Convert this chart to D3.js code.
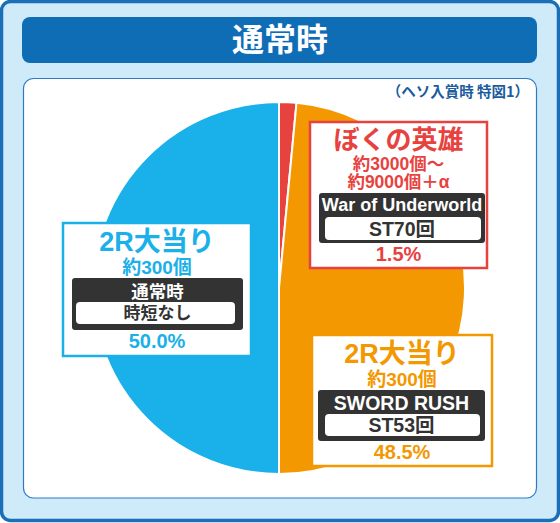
<!DOCTYPE html>
<html><head><meta charset="utf-8">
<script src="https://cdn.jsdelivr.net/npm/d3@7"></script>
<style>html,body{margin:0;padding:0;background:#fff}svg{display:block}</style>
</head><body>
<script>
// ---- data ----
const title = "通常時";
const note = "（ヘソ入賞時 特図1）";
const categories = ["ぼくの英雄", "2R大当り(SWORD RUSH)", "2R大当り(通常時)"];
const values = [1.5, 48.5, 50.0];
const headlines = ["ぼくの英雄", "2R大当り", "2R大当り"];
const payouts = [["約3000個～", "約9000個＋α"], ["約300個"], ["約300個"]];
const modes = ["War of Underworld", "SWORD RUSH", "通常時"];
const modeDetails = ["ST70回", "ST53回", "時短なし"];
const percentLabels = ["1.5%", "48.5%", "50.0%"];
const colors = ["#e8423f", "#f39800", "#1ab0e9"];

// ---- layout ----
const W = 560, H = 523;
const FONT = "'Liberation Sans','Noto Sans CJK JP',sans-serif";
const CJK = "'Noto Sans CJK JP','Noto Sans',sans-serif";
const svg = d3.select("body").append("svg").attr("width", W).attr("height", H);

svg.append("rect").attr("x", 1.5).attr("y", 1.5).attr("width", W - 3).attr("height", H - 4)
  .attr("rx", 9).attr("fill", "#cfeaf9").attr("stroke", "#1a6fb7").attr("stroke-width", 3.5);
svg.append("rect").attr("x", 22).attr("y", 17).attr("width", 515).attr("height", 46)
  .attr("rx", 8).attr("fill", "#0f6db6");
svg.append("text").attr("x", 280).attr("y", 51).attr("text-anchor", "middle")
  .attr("font-family", CJK).attr("font-weight", 700).attr("font-size", 32).attr("fill", "#fff").text(title);
svg.append("rect").attr("x", 23.5).attr("y", 78.5).attr("width", 513).attr("height", 419.5)
  .attr("rx", 10).attr("fill", "#fff").attr("stroke", "#2e7cc4").attr("stroke-width", 1.2);
svg.append("text").attr("x", 529).attr("y", 97).attr("text-anchor", "end")
  .attr("font-family", CJK).attr("font-weight", 700).attr("font-size", 14.5).attr("fill", "#1b5c9e").text(note);

// pie
const cx = 279, cy = 288, R = 186;
const pie = d3.pie().sort(null).value(d => d)(values);
const arc = d3.arc().innerRadius(0).outerRadius(R);
svg.append("g").attr("transform", `translate(${cx},${cy})`)
  .selectAll("path").data(pie).join("path")
  .attr("d", arc).attr("fill", (d, i) => colors[i])
  .attr("stroke", "#fff").attr("stroke-width", 2);

// label boxes (index -> box geometry)
const boxes = [
  {i: 0, x: 310, y: 122, w: 177, h: 146, head: 140, headSize: 26, paySize: 17.5, pay: [163.5, 182], dark: [319, 193, 166, 50], mode: 205, modeSize: 18, inner: [325, 217, 156, 23], detailSize: 19.5, pct: 254},
  {i: 1, x: 312, y: 335, w: 180, h: 131, head: 354, headSize: 27, paySize: 19, pay: [379], dark: [318, 390, 167, 51], mode: 403, modeSize: 19.5, inner: [325, 414, 155, 22], detailSize: 19.5, pct: 452},
  {i: 2, x: 63, y: 223, w: 188, h: 133, head: 242, headSize: 27, paySize: 19, pay: [267], dark: [72, 278, 171, 52], mode: 292, modeSize: 17.5, inner: [76, 302, 159, 22], detailSize: 17, pct: 341}
];

boxes.forEach(b => {
  const col = colors[b.i];
  const g = svg.append("g");
  g.append("rect").attr("x", b.x).attr("y", b.y).attr("width", b.w).attr("height", b.h)
    .attr("fill", "#fff").attr("stroke", col).attr("stroke-width", 2.5);
  const mx = b.x + b.w / 2;
  const t = (y, s, txt, fill, anchorX) => g.append("text").attr("x", anchorX ?? mx).attr("y", y)
    .attr("text-anchor", "middle").attr("dominant-baseline", "central")
    .attr("font-family", FONT).attr("font-weight", 700).attr("font-size", s).attr("fill", fill).text(txt);
  t(b.head, b.headSize, headlines[b.i], col);
  payouts[b.i].forEach((p, k) => t(b.pay[k], b.paySize, p, col));
  const [dx, dy, dw, dh] = b.dark;
  g.append("rect").attr("x", dx).attr("y", dy).attr("width", dw).attr("height", dh).attr("rx", 3).attr("fill", "#333333");
  const dmx = dx + dw / 2;
  t(b.mode, b.modeSize, modes[b.i], "#fff", dmx);
  const [ix, iy, iw, ih] = b.inner;
  g.append("rect").attr("x", ix).attr("y", iy).attr("width", iw).attr("height", ih).attr("rx", 4).attr("fill", "#fff");
  t(iy + ih / 2, b.detailSize, modeDetails[b.i], "#333", dmx);
  t(b.pct, 20, percentLabels[b.i], col);
});
</script>
</body></html>
